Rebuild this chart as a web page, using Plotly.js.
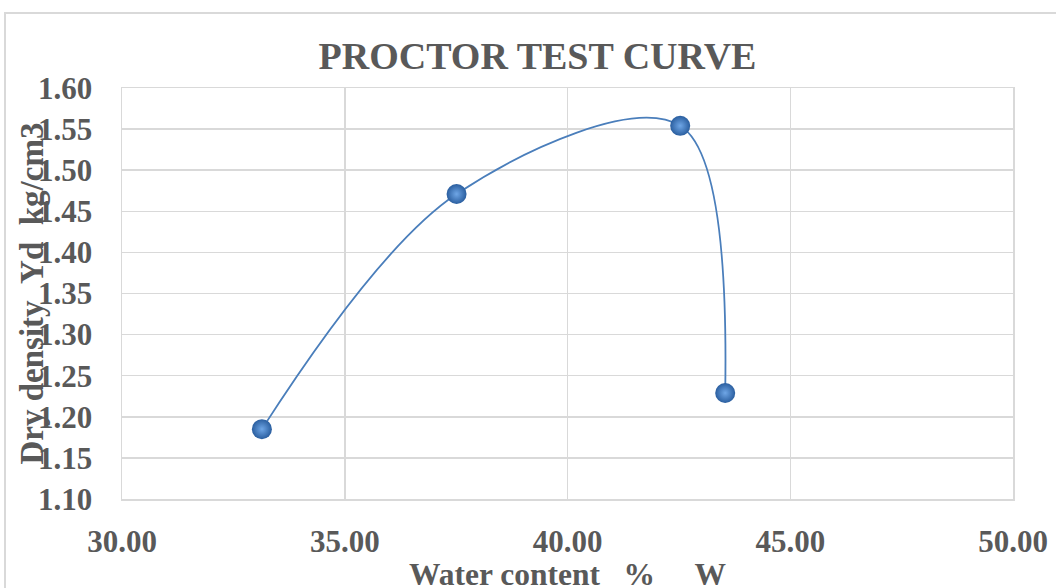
<!DOCTYPE html>
<html>
<head>
<meta charset="utf-8">
<script src="https://cdn.plot.ly/plotly-3.0.1.min.js"></script>
<style>
  html, body { margin: 0; padding: 0; background: #ffffff; }
  #wrap { position: relative; width: 1056px; height: 588px; overflow: hidden; }
  #chart { position: absolute; left: 0; top: 0; width: 1056px; height: 588px; }
  #frame {
    position: absolute; left: 4px; top: 12px; width: 1100px; height: 620px;
    border-left: 2px solid #d9d9d9; border-top: 2px solid #d9d9d9;
    pointer-events: none; box-sizing: border-box;
  }
</style>
</head>
<body>
<div id="wrap">
  <div id="chart"></div>
  <div id="frame"></div>
</div>
<script>
// Compaction results: moisture content (%) against dry density
const waterContent = [33.14, 37.51, 42.53, 43.54];
const dryDensity = [1.185, 1.471, 1.554, 1.229];

const xTicks = [30, 35, 40, 45, 50];
const yTicks = [1.10, 1.15, 1.20, 1.25, 1.30, 1.35, 1.40, 1.45, 1.50, 1.55, 1.60];

const serif = 'Liberation Serif, Times New Roman, serif';
const grey = '#595959';
const nb = '\u00a0';

const trace = {
  x: waterContent,
  y: dryDensity,
  type: 'scatter',
  mode: 'lines+markers',
  line: { shape: 'spline', smoothing: 1.0, color: '#4a7ebb', width: 1.8 },
  marker: {
    size: 20,
    color: '#2a5e9f',
    gradient: { type: 'radial', color: '#6fa6e6' },
    line: { width: 0 }
  },
  hoverinfo: 'x+y'
};

const layout = {
  width: 1056,
  height: 588,
  margin: { l: 122, r: 43, t: 88, b: 89 },
  paper_bgcolor: 'rgba(0,0,0,0)',
  plot_bgcolor: '#ffffff',
  showlegend: false,
  title: {
    text: 'PROCTOR TEST CURVE',
    font: { family: serif, size: 38, color: grey, weight: 'bold' },
    x: 0.509, xref: 'container', xanchor: 'center',
    y: 1 - 56 / 588, yref: 'container', yanchor: 'middle'
  },
  xaxis: {
    range: [30, 50],
    tickvals: xTicks,
    tickformat: '.2f',
    tickfont: { family: serif, size: 31, color: grey, weight: 'bold' },
    ticks: 'outside', ticklen: 14, tickcolor: 'rgba(0,0,0,0)',
    showgrid: true, gridcolor: '#d9d9d9', gridwidth: 1.5,
    showline: true, linecolor: '#d9d9d9', linewidth: 1.5, mirror: true,
    zeroline: false, fixedrange: true
  },
  yaxis: {
    range: [1.10, 1.60],
    tickvals: yTicks,
    tickformat: '.2f',
    tickfont: { family: serif, size: 31, color: grey, weight: 'bold' },
    ticks: 'outside', ticklen: 22, tickcolor: 'rgba(0,0,0,0)',
    showgrid: true, gridcolor: '#d9d9d9', gridwidth: 1.5,
    showline: true, linecolor: '#d9d9d9', linewidth: 1.5, mirror: true,
    zeroline: false, fixedrange: true
  },
  annotations: [
    {
      text: 'Dry density' + nb + nb + 'Yd' + nb + nb + 'kg/cm3',
      xref: 'paper', yref: 'paper', x: 0, y: 0.5,
      xanchor: 'center', yanchor: 'middle',
      xshift: -91, textangle: -90, showarrow: false,
      font: { family: serif, size: 33, color: grey, weight: 'bold' }
    },
    {
      text: 'Water content' + nb + nb + nb + '%' + nb + nb + nb + nb + nb + 'W',
      xref: 'paper', yref: 'paper', x: 0.5, y: 0,
      xanchor: 'center', yanchor: 'middle',
      yshift: -75, showarrow: false,
      font: { family: serif, size: 31.5, color: grey, weight: 'bold' }
    }
  ]
};

Plotly.newPlot('chart', [trace], layout, { displayModeBar: false, staticPlot: true });
</script>
</body>
</html>
